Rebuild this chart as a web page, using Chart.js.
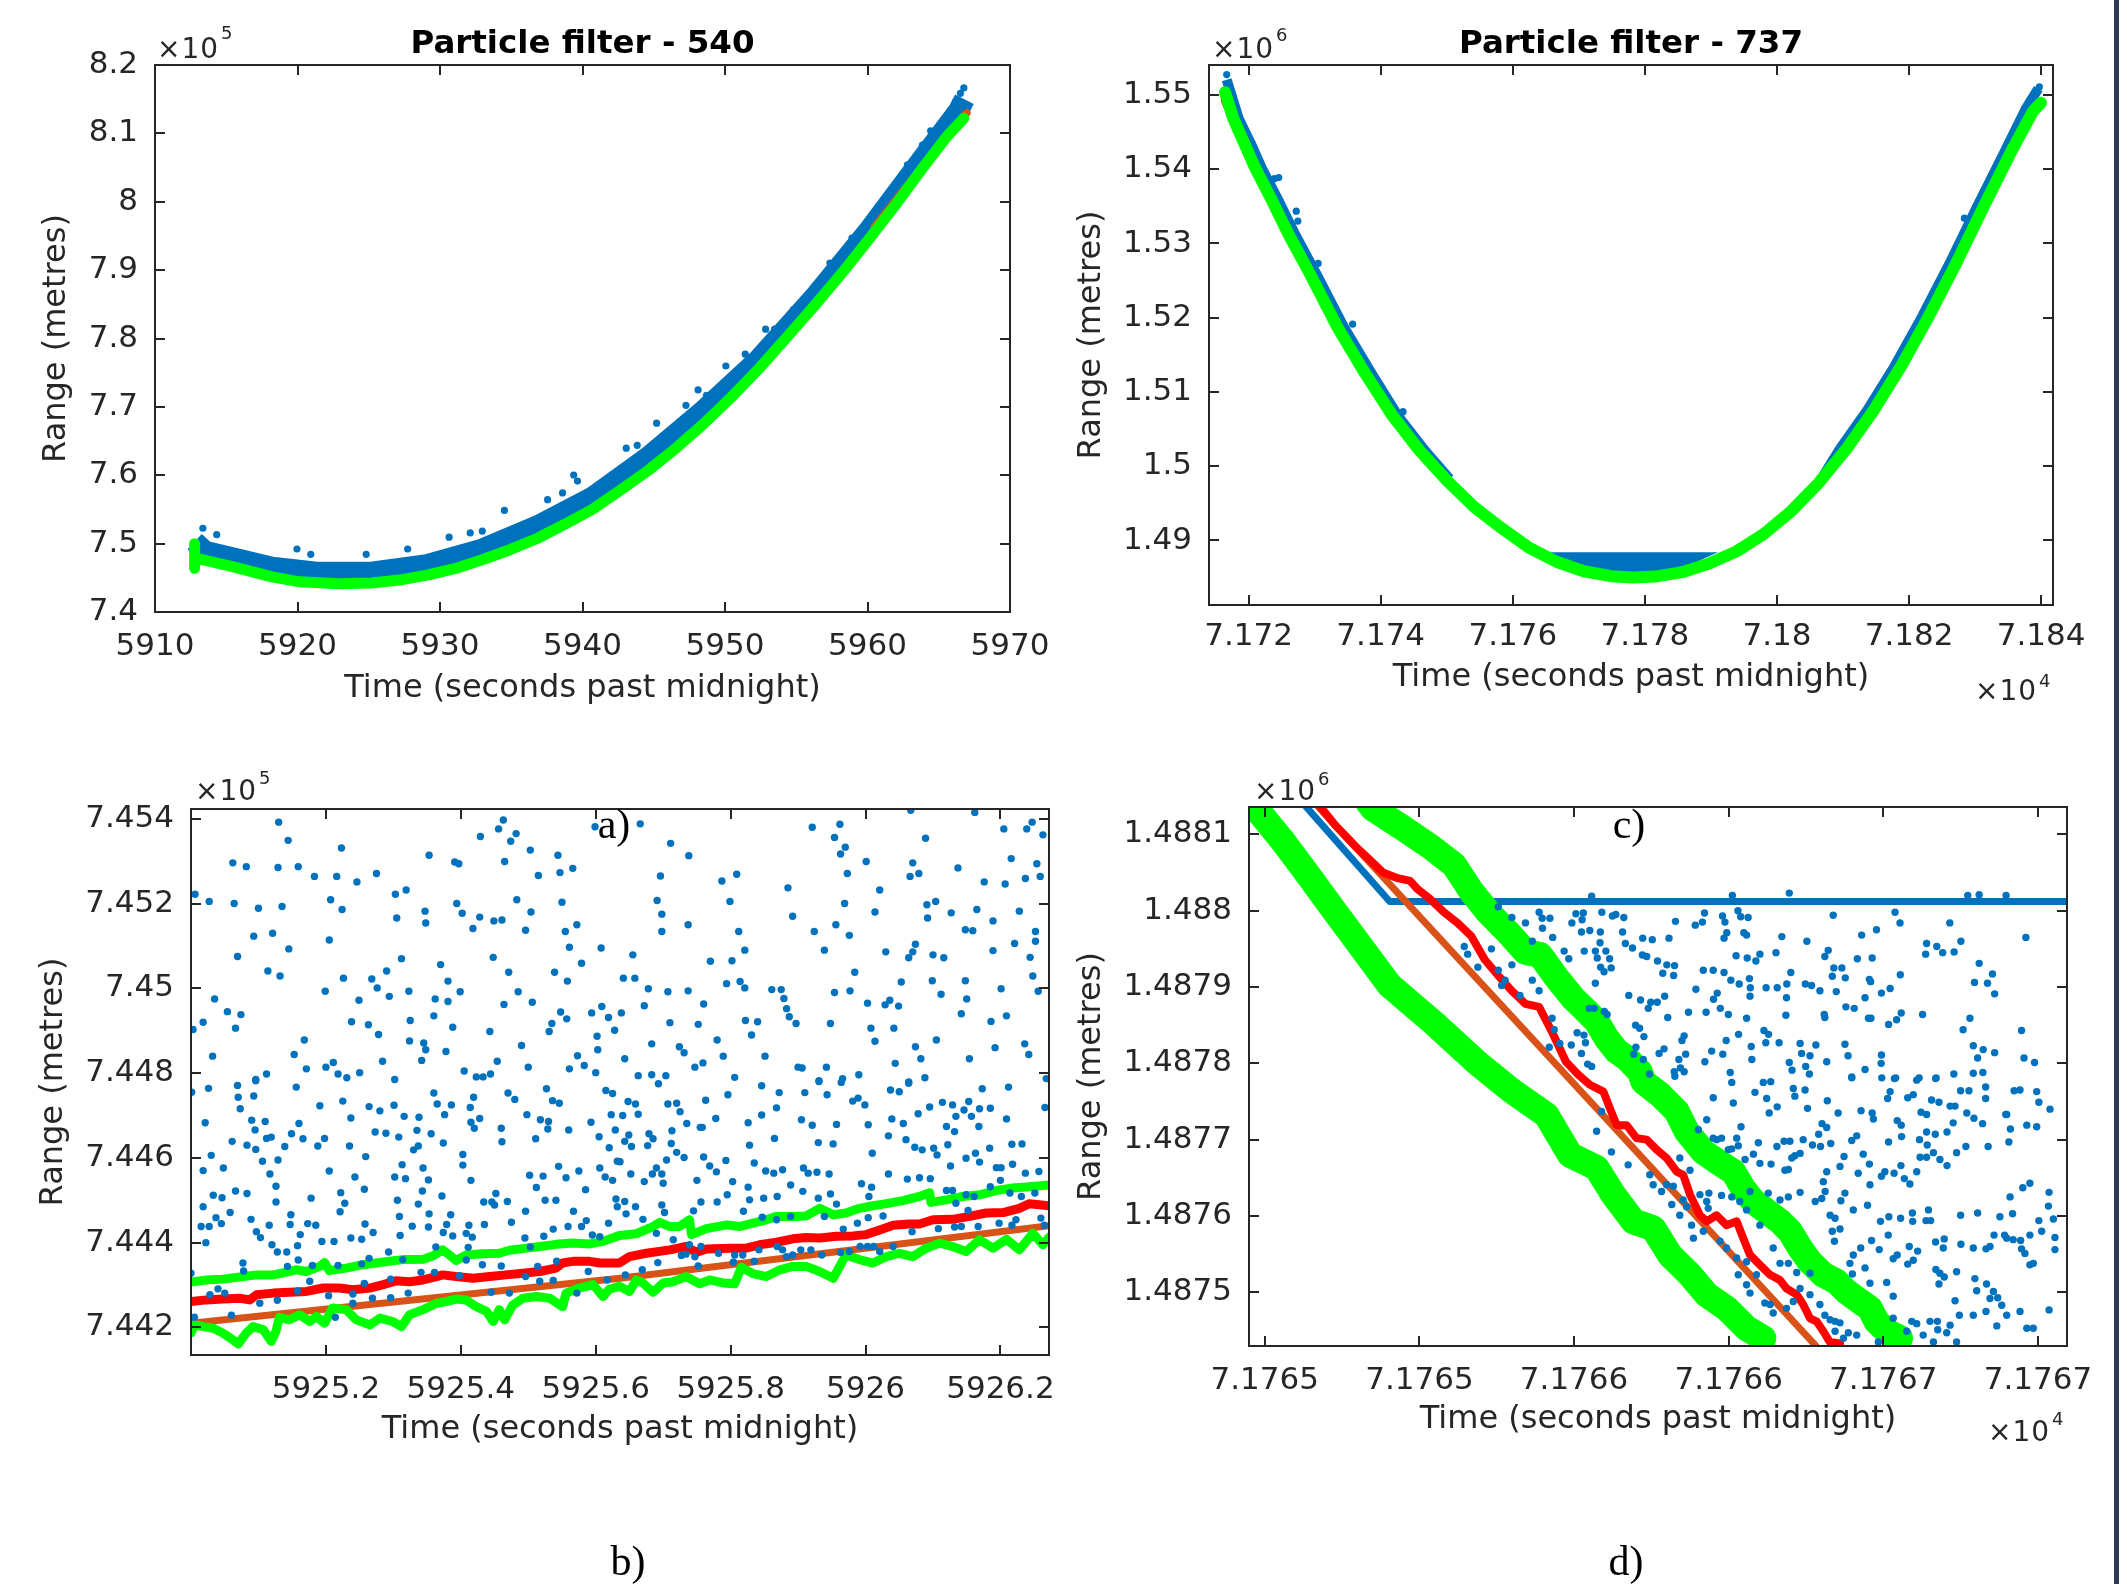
<!DOCTYPE html>
<html>
<head>
<meta charset="utf-8">
<script src="https://cdn.jsdelivr.net/npm/chart.js@4.4.1/dist/chart.umd.min.js"></script>
<style>
  body { margin: 0; background: #fff; }
  #fig { position: relative; width: 2127px; height: 1584px; background: #fff; overflow: hidden;
         font-family: 'DejaVu Sans', sans-serif; color: #262626; }
  #fig canvas { position: absolute; }
  .wrap { position: absolute; overflow: hidden; }
  .mul { position: absolute; font-size: 28px; line-height: 28px; letter-spacing: 1px; white-space: nowrap; }
  .exp { position: absolute; font-size: 18px; line-height: 18px; white-space: nowrap; }
  .tag { position: absolute; width: 100px; text-align: center; font-family: 'Liberation Serif', serif;
         font-size: 42px; line-height: 42px; color: #000; }
  #edge { position: absolute; left: 2114px; top: 0; width: 5px; height: 1584px; background: #2b3a55; }
</style>
</head>
<body>
<div id="fig">
  <canvas id="chA" width="1062" height="730" style="left:0;top:0;width:1062px;height:730px"></canvas>
  <div class="wrap" style="left:0;top:740px;width:1053px;height:844px">
    <canvas id="chB" width="1100" height="844" style="left:0;top:0;width:1100px;height:844px"></canvas>
  </div>
  <canvas id="chC" width="1054" height="730" style="left:1060px;top:0;width:1054px;height:730px"></canvas>
  <canvas id="chD" width="1054" height="844" style="left:1060px;top:740px;width:1054px;height:844px"></canvas>

  <span class="mul" style="left:157px;top:35px">×10</span><span class="exp" style="left:221px;top:24px">5</span>
  <span class="mul" style="left:1212px;top:35px">×10</span><span class="exp" style="left:1276px;top:26px">6</span>
  <span class="mul" style="left:1975px;top:677px">×10</span><span class="exp" style="left:2039px;top:672px">4</span>
  <span class="mul" style="left:195px;top:777px">×10</span><span class="exp" style="left:259px;top:769px">5</span>
  <span class="mul" style="left:1254px;top:777px">×10</span><span class="exp" style="left:1318px;top:770px">6</span>
  <span class="mul" style="left:1988px;top:1418px">×10</span><span class="exp" style="left:2052px;top:1410px">4</span>

  <div class="tag" style="left:564px;top:803px">a)</div>
  <div class="tag" style="left:578px;top:1540px">b)</div>
  <div class="tag" style="left:1579px;top:803px">c)</div>
  <div class="tag" style="left:1576px;top:1540px">d)</div>
  <div id="edge"></div>
</div>

<script>
// ---------- axis ticks ----------
const aXTicks = [5910, 5920, 5930, 5940, 5950, 5960, 5970];
const aXLabels = ['5910', '5920', '5930', '5940', '5950', '5960', '5970'];
const aYTicks = [740000, 750000, 760000, 770000, 780000, 790000, 800000, 810000, 820000];
const aYLabels = ['7.4', '7.5', '7.6', '7.7', '7.8', '7.9', '8', '8.1', '8.2'];

const bXTicks = [5925.2, 5925.4, 5925.6, 5925.8, 5926, 5926.2];
const bXLabels = ['5925.2', '5925.4', '5925.6', '5925.8', '5926', '5926.2'];
const bYTicks = [744200, 744400, 744600, 744800, 745000, 745200, 745400];
const bYLabels = ['7.442', '7.444', '7.446', '7.448', '7.45', '7.452', '7.454'];

const cXTicks = [71720, 71740, 71760, 71780, 71800, 71820, 71840];
const cXLabels = ['7.172', '7.174', '7.176', '7.178', '7.18', '7.182', '7.184'];
const cYTicks = [1490000, 1500000, 1510000, 1520000, 1530000, 1540000, 1550000];
const cYLabels = ['1.49', '1.5', '1.51', '1.52', '1.53', '1.54', '1.55'];

const dXTicks = [71764.5, 71765, 71765.5, 71766, 71766.5, 71767];
const dXLabels = ['7.1765', '7.1765', '7.1766', '7.1766', '7.1767', '7.1767'];
const dYTicks = [1487500, 1487600, 1487700, 1487800, 1487900, 1488000, 1488100];
const dYLabels = ['1.4875', '1.4876', '1.4877', '1.4878', '1.4879', '1.488', '1.4881'];

// ---------- panel a (PRN 540, full pass) ----------
const aGreen = [[5912.78,750000],[5912.78,746400],[5912.82,747900],[5915.50,746602],[5918.21,745139],[5920.16,744407],[5922.87,744146],[5925.20,744250],[5927.15,744668],[5929.09,745400],[5931.03,746341],[5932.97,747648],[5934.91,749111],[5936.85,750784],[5938.80,752875],[5940.74,755070],[5942.68,757841],[5944.62,760715],[5946.56,763956],[5948.50,767510],[5950.45,771431],[5952.39,775612],[5954.33,780160],[5956.27,784760],[5958.21,789568],[5960.16,794691],[5962.10,799918],[5964.04,805406],[5965.59,809588],[5966.76,812201]];
const aTruth = [[5960.5,796300],[5963.27,803577],[5966.96,812985]];
const aBlue = [[5912.78,750300],[5913.5,748900],[5915.50,747909],[5918.21,746550],[5921.32,745818],[5925.20,745818],[5929.09,746916],[5932.97,749216],[5936.85,752614],[5940.74,756847],[5944.62,762702],[5948.50,769497],[5952.39,777024],[5956.27,786066],[5960.16,795998],[5964.04,806817],[5966.37,813247],[5966.80,815000]];
const aSpread = [[5913.36,752248],[5914.33,751307],[5919.96,749216],[5920.93,748432],[5924.82,748432],[5927.73,749216],[5930.64,750941],[5932.12,751568],[5932.97,751829],[5934.52,754861],[5937.55,756429],[5938.60,757422],[5939.38,760036],[5939.65,759147],[5943.07,763956],[5943.84,764374],[5945.20,767615],[5947.26,770228],[5948.11,772476],[5948.70,771692],[5950.06,775978],[5951.42,777703],[5952.85,781362],[5953.48,781362],[5954.80,784237],[5956.27,787634],[5957.36,791032],[5958.91,794691],[5960.54,798611],[5961.52,801225],[5962.80,805406],[5963.85,808281],[5964.43,810372],[5966.18,814658],[5966.76,816644],[5966.52,815860]];

// ---------- panel b (PRN 540, zoom) ----------
const bGreenHi = [[5925.0,744307],[5925.023,744312],[5925.047,744314],[5925.072,744319],[5925.097,744324],[5925.122,744324],[5925.146,744332],[5925.156,744336],[5925.171,744332],[5925.191,744344],[5925.198,744353],[5925.205,744334],[5925.230,744340],[5925.255,744348],[5925.275,744352],[5925.294,744356],[5925.314,744360],[5925.344,744361],[5925.359,744369],[5925.373,744383],[5925.383,744371],[5925.393,744358],[5925.408,744371],[5925.433,744374],[5925.457,744375],[5925.472,744382],[5925.492,744386],[5925.517,744391],[5925.541,744396],[5925.566,744399],[5925.591,744397],[5925.611,744403],[5925.635,744417],[5925.660,744421],[5925.685,744438],[5925.695,744448],[5925.710,744438],[5925.724,744438],[5925.739,744454],[5925.742,744419],[5925.764,744433],[5925.794,744442],[5925.813,744438],[5925.833,744446],[5925.853,744454],[5925.868,744462],[5925.892,744462],[5925.912,744463],[5925.932,744481],[5925.952,744466],[5925.971,744470],[5925.991,744481],[5926.011,744487],[5926.031,744492],[5926.055,744499],[5926.080,744509],[5926.095,744518],[5926.097,744495],[5926.120,744501],[5926.144,744509],[5926.169,744513],[5926.194,744523],[5926.218,744529],[5926.243,744532],[5926.273,744536]];
const bRed = [[5925.0,744261],[5925.023,744265],[5925.047,744267],[5925.072,744269],[5925.087,744265],[5925.097,744277],[5925.122,744281],[5925.146,744283],[5925.171,744285],[5925.196,744293],[5925.220,744293],[5925.240,744289],[5925.265,744293],[5925.285,744301],[5925.304,744310],[5925.324,744308],[5925.344,744312],[5925.364,744320],[5925.373,744324],[5925.393,744320],[5925.418,744316],[5925.443,744320],[5925.467,744324],[5925.492,744328],[5925.517,744332],[5925.541,744340],[5925.551,744352],[5925.566,744356],[5925.591,744356],[5925.606,744352],[5925.635,744352],[5925.650,744367],[5925.675,744375],[5925.710,744383],[5925.734,744391],[5925.749,744377],[5925.764,744385],[5925.799,744387],[5925.823,744387],[5925.843,744395],[5925.868,744401],[5925.892,744409],[5925.912,744412],[5925.932,744411],[5925.957,744415],[5925.981,744416],[5926.001,744419],[5926.021,744430],[5926.041,744441],[5926.065,744444],[5926.080,744444],[5926.100,744454],[5926.129,744455],[5926.154,744462],[5926.179,744470],[5926.204,744471],[5926.228,744481],[5926.243,744492],[5926.273,744487]];
const bTruth = [[5925.0,744210],[5925.636,744316],[5926.273,744440]];
const bGreenLo = [[5925.0,744187],[5925.005,744206],[5925.018,744202],[5925.033,744198],[5925.047,744187],[5925.062,744171],[5925.070,744161],[5925.082,744187],[5925.092,744202],[5925.107,744195],[5925.119,744167],[5925.126,744191],[5925.131,744224],[5925.146,744218],[5925.161,744230],[5925.176,744214],[5925.186,744226],[5925.198,744210],[5925.210,744246],[5925.230,744242],[5925.245,744218],[5925.265,744206],[5925.280,744222],[5925.299,744214],[5925.312,744202],[5925.324,744230],[5925.344,744242],[5925.364,744257],[5925.378,744261],[5925.393,744267],[5925.408,744265],[5925.423,744249],[5925.438,744238],[5925.448,744214],[5925.457,744242],[5925.465,744218],[5925.477,744253],[5925.492,744269],[5925.512,744273],[5925.532,744269],[5925.551,744249],[5925.556,744281],[5925.576,744293],[5925.596,744301],[5925.611,744273],[5925.620,744290],[5925.635,744297],[5925.650,744285],[5925.660,744312],[5925.670,744305],[5925.685,744283],[5925.700,744305],[5925.715,744308],[5925.734,744320],[5925.754,744303],[5925.769,744312],[5925.789,744305],[5925.806,744303],[5925.816,744342],[5925.833,744327],[5925.853,744320],[5925.873,744336],[5925.892,744344],[5925.912,744344],[5925.932,744332],[5925.952,744316],[5925.971,744371],[5925.991,744360],[5926.011,744352],[5926.031,744367],[5926.050,744375],[5926.070,744367],[5926.090,744387],[5926.110,744399],[5926.129,744391],[5926.149,744379],[5926.169,744407],[5926.189,744387],[5926.209,744408],[5926.228,744383],[5926.248,744422],[5926.263,744395],[5926.273,744414]];
const bParticles = [
[5925.130,745392],[5925.463,745397],[5925.599,745381],[5925.456,745376],[5925.429,745358],[5925.144,745349],[5925.474,745347],[5925.482,745365],[5925.223,745331],[5925.503,745326],[5925.062,745296],[5925.082,745287],[5925.129,745285],[5925.159,745287],[5925.353,745314],[5925.391,745298],[5925.397,745294],[5925.465,745299],[5925.544,745314],[5925.566,745283],[5925.547,745273],[5925.515,745266],[5925.183,745264],[5925.216,745264],[5925.246,745251],[5925.275,745271],[5925.006,745222],[5925.027,745205],[5925.064,745200],[5925.100,745189],[5925.135,745193],[5925.207,745209],[5925.224,745186],[5925.303,745222],[5925.319,745232],[5925.305,745166],[5925.347,745182],[5925.348,745154],[5925.394,745200],[5925.402,745177],[5925.418,745141],[5925.428,745168],[5925.449,745159],[5925.461,745161],[5925.483,745209],[5925.504,745180],[5925.496,745137],[5925.550,745203],[5925.555,745134],[5925.572,745150],[5925.093,745123],[5925.121,745130],[5925.145,745093],[5925.069,745075],[5925.114,745041],[5925.132,745029],[5925.205,745114],[5925.226,745024],[5925.268,745022],[5925.276,745001],[5925.290,745041],[5925.312,745070],[5925.370,745056],[5925.381,745017],[5925.448,745073],[5925.471,745038],[5925.561,745097],[5925.579,745059],[5925.539,745038],[5925.558,745017],[5925.608,745095],[5925.035,744975],[5925.054,744945],[5925.074,744938],[5925.066,744906],[5925.018,744920],[5925.003,744903],[5925.032,744840],[5925.199,744993],[5925.249,744972],[5925.294,744981],[5925.323,744993],[5925.362,744975],[5925.381,744969],[5925.399,744992],[5925.360,744935],[5925.325,744924],[5925.238,744921],[5925.263,744914],[5925.278,744891],[5925.324,744876],[5925.345,744871],[5925.348,744855],[5925.388,744908],[5925.378,744851],[5925.342,744830],[5925.284,744828],[5925.464,744962],[5925.485,744992],[5925.506,744967],[5925.443,744898],[5925.548,744944],[5925.557,744928],[5925.535,744917],[5925.531,744898],[5925.594,744942],[5925.609,744957],[5925.619,744931],[5925.628,744901],[5925.602,744887],[5925.603,744855],[5925.573,744841],[5925.583,744818],[5925.561,744810],[5925.600,744801],[5925.490,744865],[5925.500,744814],[5925.454,744828],[5925.444,744798],[5925.423,744791],[5925.433,744791],[5925.405,744805],[5925.302,744785],[5925.250,744801],[5925.231,744789],[5925.218,744798],[5925.211,744825],[5925.200,744814],[5925.171,744810],[5925.168,744878],[5925.153,744844],[5925.112,744798],[5925.096,744785],
[5925.666,745388],[5925.711,745342],[5925.738,745313],[5925.696,745265],[5925.691,745207],[5925.698,745175],[5925.698,745134],[5925.737,745150],[5925.787,745253],[5925.809,745269],[5925.799,745205],[5925.812,745134],[5925.821,745090],[5925.802,745065],[5925.655,745079],[5925.641,745024],[5925.658,745024],[5925.678,744999],[5925.707,744992],[5925.737,744994],[5925.770,745064],[5925.794,745011],[5925.814,745016],[5925.821,745001],[5925.861,744997],[5925.875,744997],[5925.879,744976],[5925.883,744952],[5925.887,744933],[5925.897,744917],[5925.760,744963],[5925.672,744959],[5925.638,744942],[5925.710,744919],[5925.752,744915],[5925.822,744924],[5925.840,744921],[5925.831,744890],[5925.780,744878],[5925.683,744869],[5925.724,744862],[5925.731,744848],[5925.789,744840],[5925.643,744834],[5925.759,744824],[5925.747,744814],[5925.851,744840],[5925.663,744794],[5925.683,744796],[5925.704,744794],[5925.806,744790],[5925.900,744814],[5925.906,744812],[5925.931,744782],[5925.942,744814],[5925.966,744787],[5925.990,744796],[5925.921,745380],[5925.954,745356],[5925.962,745387],[5925.970,745333],[5925.963,745317],[5925.973,745271],[5926.001,745299],[5925.885,745237],[5925.892,745170],[5925.924,745134],[5925.939,745090],[5925.956,745150],[5925.969,745200],[5925.976,745125],[5925.984,745038],[5925.977,744994],[5925.954,744990],[5925.948,744917],[5926.003,744965],[5926.008,744906],[5926.014,744875],[5926.030,745086],[5926.014,745180],[5926.021,745232],[5926.067,745420],[5926.089,745354],[5926.070,745296],[5926.066,745264],[5926.079,745271],[5926.091,745197],[5926.104,745205],[5926.092,745166],[5926.127,745178],[5926.137,745284],[5926.162,745415],[5926.205,745376],[5926.216,745306],[5926.239,745376],[5926.247,745392],[5926.263,745362],[5926.254,745294],[5926.259,745264],[5926.237,745259],[5926.207,745246],[5926.176,745251],[5926.165,745186],[5926.189,745159],[5926.228,745182],[5926.148,745138],[5926.159,745136],[5926.252,745134],[5926.252,745111],[5926.221,745106],[5926.189,745089],[5926.244,745073],[5926.248,745029],[5926.256,744993],[5926.201,744999],[5926.209,744935],[5926.186,744922],[5926.148,745018],[5926.150,744975],[5926.142,744940],[5926.112,744986],[5926.116,745072],[5926.100,745079],[5926.099,745018],[5926.074,745104],[5926.070,745086],[5926.064,745072],[5926.053,745015],[5926.036,744972],[5926.029,744961],[5926.049,744958],[5926.042,744906],[5926.074,744862],[5926.082,744834],[5926.105,744878],[5926.154,744834],[5926.192,744860],[5926.236,744869],[5926.242,744844],[5926.088,744789],[5926.064,744779],[5926.044,744823],[5926.268,744787],
[5925.069,744771],[5925.096,744782],[5925.026,744764],[5925.156,744767],[5925.070,744743],[5925.093,744746],[5925.073,744716],[5925.001,744755],[5925.191,744723],[5925.225,744734],[5925.301,744724],[5925.264,744721],[5925.280,744711],[5925.316,744698],[5925.338,744696],[5925.360,744753],[5925.365,744727],[5925.386,744725],[5925.376,744702],[5925.419,744743],[5925.414,744719],[5925.428,744693],[5925.415,744684],[5925.420,744670],[5925.470,744753],[5925.480,744738],[5925.527,744763],[5925.536,744735],[5925.546,744729],[5925.498,744702],[5925.518,744690],[5925.530,744686],[5925.529,744668],[5925.560,744666],[5925.593,744684],[5925.615,744759],[5925.625,744752],[5925.623,744702],[5925.629,744666],[5925.605,744650],[5925.620,744624],[5925.632,744592],[5925.021,744683],[5925.061,744639],[5925.090,744689],[5925.110,744686],[5925.095,744666],[5925.112,744646],[5925.119,744649],[5925.083,744630],[5925.096,744620],[5925.139,744627],[5925.149,744657],[5925.166,744645],[5925.160,744681],[5925.198,744646],[5925.188,744628],[5925.237,744694],[5925.235,744628],[5925.273,744661],[5925.289,744658],[5925.308,744649],[5925.335,744665],[5925.356,744657],[5925.337,744628],[5925.330,744619],[5925.374,744635],[5925.460,744670],[5925.461,744638],[5925.511,744645],[5925.030,744606],[5925.018,744570],[5925.048,744576],[5925.106,744592],[5925.129,744595],[5925.117,744562],[5925.126,744533],[5925.126,744496],[5925.066,744522],[5925.083,744516],[5925.033,744512],[5925.046,744506],[5925.018,744485],[5925.058,744471],[5925.037,744459],[5925.045,744445],[5925.015,744438],[5925.027,744438],[5925.022,744400],[5925.089,744455],[5925.097,744426],[5925.103,744412],[5925.116,744441],[5925.120,744395],[5925.148,744466],[5925.147,744443],[5925.162,744419],[5925.158,744393],[5925.173,744445],[5925.178,744505],[5925.185,744441],[5925.205,744569],[5925.243,744555],[5925.259,744603],[5925.257,744526],[5925.222,744518],[5925.228,744493],[5925.221,744473],[5925.194,744403],[5925.212,744403],[5925.237,744411],[5925.253,744408],[5925.258,744444],[5925.270,744424],[5925.302,744555],[5925.318,744551],[5925.313,744584],[5925.344,744576],[5925.352,744548],[5925.343,744522],[5925.337,744491],[5925.306,744500],[5925.309,744462],[5925.310,744417],[5925.328,744439],[5925.353,744468],[5925.352,744437],[5925.372,744510],[5925.385,744466],[5925.379,744443],[5925.374,744424],[5925.388,744416],[5925.403,744608],[5925.403,744583],[5925.415,744547],[5925.412,744441],[5925.408,744422],[5925.417,744413],[5925.435,744443],[5925.434,744496],[5925.446,744496],[5925.452,744516],[5925.450,744489],[5925.469,744497],[5925.475,744448],[5925.502,744559],[5925.512,744530],[5925.522,744557],[5925.525,744500],[5925.541,744500],[5925.545,744580],[5925.556,744553],[5925.575,744569],[5925.585,744525],[5925.606,744576],[5925.614,744555],[5925.625,744547],[5925.630,744503],[5925.632,744485],[5925.496,744474],[5925.523,744415],[5925.537,744432],[5925.559,744438],[5925.567,744474],[5925.579,744438],[5925.586,744452],[5925.619,744446],[5925.495,744411],[5925.595,744418],[5925.606,744414],[5925.077,744352],[5925.078,744333],[5925.159,744359],[5925.142,744378],[5925.128,744378],[5925.143,744344],[5925.180,744346],[5925.218,744346],[5925.253,744350],[5925.264,744363],[5925.293,744378],[5925.314,744360],[5925.363,744390],[5925.411,744389],[5925.408,744359],[5925.432,744348],[5925.460,744345],[5925.503,744390],[5925.514,744344],[5925.542,744356],[5925.589,744332],[5925.496,744320],[5925.517,744309],[5925.000,744328],[5925.040,744291],[5925.050,744281],[5925.028,744277],[5925.102,744257],[5925.128,744264],[5925.176,744309],[5925.158,744286],[5925.204,744275],[5925.240,744279],[5925.257,744304],[5925.269,744269],[5925.296,744314],[5925.296,744270],[5925.322,744281],[5925.341,744330],[5925.361,744330],[5925.398,744322],[5925.445,744283],[5925.472,744281],[5925.537,744311],[5925.572,744281],[5925.617,744312],[5925.060,744229],[5925.005,744224],[5925.214,744224],[5925.240,744257],
[5925.693,744775],[5925.796,744749],[5925.846,744770],[5925.872,744754],[5925.910,744754],[5925.931,744780],[5925.943,744749],[5925.964,744778],[5925.981,744734],[5925.989,744741],[5925.999,744725],[5926.037,744760],[5926.050,744756],[5926.064,744776],[5926.173,744763],[5926.212,744767],[5925.648,744733],[5925.659,744727],[5925.707,744727],[5925.720,744729],[5925.725,744709],[5925.763,744736],[5925.640,744700],[5925.663,744703],[5925.735,744681],[5925.755,744672],[5925.778,744693],[5925.826,744683],[5925.846,744701],[5925.868,744718],[5925.865,744646],[5925.905,744690],[5925.921,744677],[5925.957,744679],[5926.004,744678],[5926.039,744692],[5926.056,744681],[5926.078,744704],[5926.095,744720],[5926.114,744731],[5926.129,744725],[5926.134,744698],[5926.146,744713],[5926.157,744698],[5926.153,744733],[5926.169,744716],[5926.185,744717],[5926.168,744674],[5926.209,744692],[5926.132,744662],[5926.120,744674],[5925.649,744654],[5925.643,744639],[5925.653,744627],[5925.679,744657],[5925.685,744645],[5925.677,744629],[5925.713,744664],[5925.712,744634],[5925.720,744613],[5925.731,744601],[5925.705,744595],[5925.690,744576],[5925.698,744562],[5925.684,744562],[5925.652,744562],[5925.672,744544],[5925.700,744540],[5925.636,744591],[5925.750,744547],[5925.758,744672],[5925.760,744602],[5925.769,744581],[5925.779,744567],[5925.793,744594],[5925.803,744544],[5925.828,744630],[5925.835,744588],[5925.852,744569],[5925.864,744564],[5925.877,744572],[5925.889,744536],[5925.908,744576],[5925.915,744564],[5925.928,744566],[5925.946,744562],[5925.930,744636],[5925.952,744633],[5926.010,744611],[5925.994,744539],[5926.005,744509],[5926.009,744531],[5926.034,744652],[5926.034,744562],[5926.060,744643],[5926.062,744550],[5926.073,744625],[5926.084,744619],[5926.080,744553],[5926.096,744551],[5926.101,744623],[5926.106,744607],[5926.126,744581],[5926.122,744631],[5926.149,744599],[5926.163,744611],[5926.169,744590],[5926.184,744623],[5926.194,744577],[5926.201,744577],[5926.218,744585],[5926.217,744632],[5926.232,744633],[5926.237,744564],[5926.257,744568],[5926.200,744547],[5926.120,744523],[5926.129,744523],[5926.149,744513],[5926.152,744476],[5926.134,744493],[5926.161,744509],[5926.185,744532],[5926.214,744517],[5926.231,744509],[5926.251,744517],[5926.266,744719],[5926.260,744458],[5925.643,744497],[5925.659,744485],[5925.645,744468],[5925.670,744455],[5925.698,744489],[5925.702,744471],[5925.745,744475],[5925.756,744496],[5925.780,744496],[5925.795,744513],[5925.826,744531],[5925.819,744474],[5925.828,744501],[5925.849,744505],[5925.869,744509],[5925.847,744460],[5925.868,744454],[5925.889,744462],[5925.907,744521],[5925.930,744505],[5925.948,744515],[5925.957,744491],[5925.939,744462],[5925.967,744432],[5925.988,744446],[5926.004,744459],[5926.026,744463],[5926.069,744426],[5926.108,744433],[5926.132,744437],[5926.142,744438],[5926.167,744438],[5926.198,744446],[5926.217,744441],[5926.223,744454],[5926.265,744441],[5925.690,744422],[5925.727,744370],[5925.734,744373],[5925.739,744395],[5925.756,744391],[5925.747,744367],[5925.752,744345],[5925.644,744324],[5925.669,744336],[5925.692,744353],[5925.715,744407],[5925.782,744375],[5925.804,744354],[5925.806,744371],[5925.818,744371],[5925.835,744356],[5925.842,744383],[5925.869,744391],[5925.877,744383],[5925.883,744367],[5925.892,744371],[5925.904,744383],[5925.919,744383],[5925.935,744371],[5925.963,744377],[5925.976,744379],[5925.992,744391],[5926.003,744391],[5926.012,744391],[5926.021,744379],[5926.041,744391]
];

// ---------- panel c (PRN 737, full pass) ----------
const cGreen = [[71716.43,1550380],[71717.68,1546814],[71719.34,1543486],[71721.00,1540157],[71723.48,1535878],[71725.97,1531360],[71729.29,1525892],[71733.43,1518760],[71737.58,1512578],[71741.73,1506872],[71745.87,1502117],[71750.02,1498075],[71754.16,1494509],[71758.31,1491656],[71762.45,1489040],[71766.60,1487138],[71770.75,1485855],[71774.89,1485189],[71778.21,1485000],[71781.53,1485142],[71785.67,1485733],[71789.82,1486921],[71793.96,1488565],[71798.11,1490943],[71802.26,1494034],[71806.40,1497837],[71810.55,1502355],[71814.69,1507585],[71818.84,1513529],[71822.99,1520186],[71827.13,1527318],[71831.28,1534927],[71835.42,1542297],[71838.74,1547765],[71839.98,1548954]];
const cRed = [[71716.02,1549192],[71718.51,1543961]];
const cBlueLeft = [[71716.68,1552045],[71718.51,1546814],[71720.33,1543486],[71721.99,1540157],[71724.48,1535878],[71726.97,1531360],[71730.28,1525892],[71734.43,1518760],[71738.57,1512578],[71742.55,1506872],[71746.70,1502117],[71750.43,1498313]];
const cBlueRight = [[71806.40,1497837],[71809.55,1502355],[71813.70,1507585],[71817.84,1513529],[71821.99,1520186],[71826.14,1527318],[71830.28,1534927],[71834.43,1542297],[71837.74,1548241],[71839.57,1550856]];
const cBlueFloor = [[71765.36,1488422],[71791.06,1488422],[71787.33,1486900],[71783.18,1485950],[71778.21,1485570],[71773.23,1485950],[71769.09,1486900],[71765.36,1488422]];
const cSpread = [[71723.90,1538731],[71724.56,1538873],[71727.21,1534356],[71727.46,1533024],[71730.53,1527318],[71735.75,1519140],[71743.38,1507348],[71828.38,1533405],[71835.01,1543248],[71716.68,1552758],[71839.73,1551094]];

// ---------- panel d (PRN 737, zoom) ----------
const dGreenHi = [[71764.82,1488150],[71764.849,1488134],[71764.948,1488108],[71765.035,1488084],[71765.112,1488060],[71765.167,1488026],[71765.222,1487998],[71765.288,1487971],[71765.343,1487946],[71765.390,1487942],[71765.444,1487912],[71765.498,1487885],[71765.541,1487868],[71765.573,1487855],[71765.605,1487833],[71765.638,1487816],[71765.670,1487807],[71765.713,1487789],[71765.724,1487776],[71765.778,1487759],[71765.832,1487737],[71765.864,1487711],[71765.918,1487684],[71765.972,1487669],[71766.015,1487658],[71766.047,1487636],[71766.080,1487619],[71766.123,1487606],[71766.166,1487593],[71766.198,1487580],[71766.231,1487558],[71766.263,1487540],[71766.306,1487523],[71766.349,1487514],[71766.381,1487501],[71766.425,1487488],[71766.457,1487479],[71766.478,1487462],[71766.511,1487449],[71766.554,1487440]];
const dGreenLo = [[71764.46,1488150],[71764.476,1488132],[71764.553,1488094],[71764.629,1488053],[71764.728,1487998],[71764.816,1487950],[71764.904,1487902],[71765.046,1487853],[71765.189,1487800],[71765.299,1487764],[71765.411,1487732],[71765.487,1487680],[71765.573,1487663],[71765.627,1487628],[71765.692,1487593],[71765.756,1487584],[71765.810,1487549],[71765.875,1487523],[71765.929,1487497],[71765.993,1487479],[71766.058,1487453],[71766.112,1487440]];
const dRed = [[71764.680,1488136],[71764.728,1488112],[71764.794,1488084],[71764.838,1488067],[71764.882,1488050],[71764.926,1488043],[71764.970,1488039],[71764.992,1488029],[71765.035,1488015],[71765.079,1487998],[71765.123,1487984],[71765.167,1487967],[71765.211,1487936],[71765.255,1487915],[71765.299,1487895],[71765.343,1487878],[71765.387,1487874],[71765.430,1487840],[71765.474,1487802],[71765.514,1487785],[71765.551,1487772],[71765.595,1487763],[71765.616,1487741],[71765.638,1487719],[71765.670,1487719],[71765.702,1487702],[71765.735,1487700],[71765.767,1487687],[71765.799,1487676],[71765.832,1487658],[71765.853,1487654],[71765.875,1487628],[71765.907,1487601],[71765.929,1487593],[71765.961,1487601],[71765.993,1487588],[71766.026,1487593],[71766.047,1487571],[71766.069,1487549],[71766.101,1487536],[71766.134,1487523],[71766.166,1487516],[71766.187,1487505],[71766.220,1487497],[71766.241,1487484],[71766.263,1487466],[71766.284,1487462],[71766.306,1487449],[71766.327,1487435],[71766.360,1487433]];
const dTruth = [[71764.673,1488136],[71766.282,1487430]];
const dBlueTrack = [[71764.634,1488136],[71764.904,1488012],[71767.094,1488012]];
const dParticles = [
[71766.196,1488023],[71766.810,1488021],[71766.897,1488020],[71766.012,1488020],[71765.557,1488019],[71766.773,1488020],
[71765.397,1487990],[71765.422,1487990],[71765.506,1487996],[71765.530,1487997],[71765.590,1487998],[71765.624,1487993],[71765.635,1487995],[71765.661,1487991],[71765.493,1487984],[71765.526,1487988],[71765.524,1487972],[71765.551,1487974],[71765.585,1487972],[71765.431,1487965],[71765.584,1487958],[71765.657,1487972],[71765.666,1487957],[71765.689,1487951],[71765.722,1487964],[71765.753,1487962],[71765.807,1487964],[71765.828,1487986],[71765.892,1487981],[71765.915,1487985],[71765.922,1487997],[71765.980,1487993],[71765.988,1487985],[71766.030,1488000],[71766.039,1487992],[71766.063,1487991],[71765.994,1487971],[71765.985,1487964],[71766.049,1487971],[71766.058,1487968],[71766.172,1487966],[71766.253,1487960],[71766.338,1487994],[71766.430,1487968],[71766.478,1487975],[71766.538,1487998],[71766.554,1487984],[71766.715,1487984],[71766.640,1487957],[71766.673,1487953],[71766.751,1487960],[71766.692,1487945],[71766.729,1487946],[71766.637,1487943],[71766.961,1487965],[71765.468,1487947],[71765.483,1487937],[71765.533,1487947],[71765.569,1487947],[71765.575,1487938],[71765.603,1487947],[71765.586,1487926],[71765.615,1487937],[71765.620,1487925],[71765.597,1487920],[71765.721,1487942],[71765.735,1487940],[71765.770,1487934],[71765.800,1487929],[71765.825,1487928],[71765.787,1487918],[71765.822,1487915],[71765.569,1487905],[71765.677,1487889],[71765.715,1487883],[71765.748,1487880],[71765.740,1487872],[71765.769,1487880],[71765.793,1487888],[71765.803,1487860],[71765.870,1487867],[71765.927,1487867],[71765.951,1487884],[71765.963,1487892],[71765.973,1487872],[71765.894,1487897],[71765.918,1487922],[71765.950,1487922],[71765.985,1487919],[71766.007,1487909],[71766.034,1487904],[71766.067,1487911],[71766.070,1487899],[71766.069,1487888],[71766.024,1487941],[71766.060,1487938],[71766.088,1487934],[71766.101,1487943],[71766.153,1487945],[71766.121,1487899],[71766.157,1487899],[71766.188,1487904],[71766.201,1487919],[71766.187,1487886],[71766.185,1487863],[71766.058,1487859],[71765.999,1487864],[71766.248,1487904],[71766.268,1487902],[71766.295,1487895],[71766.311,1487940],[71766.322,1487948],[71766.340,1487925],[71766.366,1487925],[71766.377,1487912],[71766.335,1487914],[71766.348,1487894],[71766.416,1487937],[71766.464,1487938],[71766.455,1487910],[71766.459,1487907],[71766.494,1487892],[71766.522,1487898],[71766.555,1487916],[71766.379,1487874],[71766.406,1487872],[71766.441,1487886],[71766.452,1487859],[71766.460,1487859],[71766.309,1487864],[71766.311,1487860],[71766.376,1487825],[71766.386,1487810],[71766.517,1487851],[71766.543,1487857],[71766.558,1487866],[71766.627,1487864],[71766.758,1487844],[71766.780,1487859],[71766.795,1487906],[71766.837,1487905],[71766.853,1487917],[71766.810,1487931],[71766.860,1487891],[71766.947,1487843],[71766.791,1487823],[71766.823,1487818],[71766.860,1487814],[71766.805,1487807],[71766.955,1487807],[71766.989,1487801],[71766.728,1487786],[71766.791,1487787],[71766.822,1487788],[71766.616,1487781],[71766.671,1487781],[71766.540,1487781],[71766.493,1487800],[71766.494,1487811],[71766.441,1487792],[71766.398,1487782],[71766.317,1487802],[71766.249,1487796],[71766.261,1487786],[71766.196,1487801],[71766.205,1487791],[71766.231,1487826],[71766.236,1487813],[71766.263,1487810],[71766.282,1487824],[71766.114,1487843],[71766.129,1487838],[71766.163,1487827],[71766.120,1487827],[71766.073,1487822],[71766.075,1487805],[71766.032,1487838],[71765.992,1487830],[71766.005,1487788],[71765.945,1487816],[71765.981,1487812],[71765.923,1487802],[71765.856,1487836],[71765.849,1487830],[71765.861,1487812],[71765.839,1487805],[71765.844,1487794],[71765.824,1487789],[71765.856,1487789],[71765.791,1487819],[71765.775,1487813],[71765.726,1487835],[71765.712,1487846],[71765.699,1487850],[71765.700,1487821],[71765.693,1487812],[71765.724,1487805],[71765.744,1487786],[71765.549,1487872],[71765.565,1487872],[71765.598,1487868],[71765.607,1487864],[71765.532,1487837],[71765.537,1487827],[71765.510,1487840],[71765.524,1487813],[71765.544,1487799],[71765.557,1487796],[71765.491,1487824],[71765.454,1487826],[71765.429,1487859],[71765.436,1487844],[71765.420,1487821],
[71765.826,1487783],[71765.950,1487755],[71766.010,1487775],[71766.015,1487748],[71766.085,1487762],[71766.112,1487775],[71766.136,1487776],[71766.123,1487754],[71766.157,1487743],[71766.131,1487735],[71766.209,1487767],[71766.247,1487765],[71766.214,1487757],[71766.255,1487741],[71766.319,1487751],[71766.398,1487781],[71766.354,1487735],[71766.428,1487738],[71766.464,1487735],[71766.468,1487727],[71766.495,1487781],[71766.536,1487780],[71766.522,1487763],[71766.514,1487754],[71766.579,1487755],[71766.597,1487759],[71766.608,1487778],[71766.669,1487780],[71766.656,1487752],[71766.680,1487749],[71766.716,1487744],[71766.732,1487744],[71766.750,1487764],[71766.777,1487764],[71766.770,1487735],[71766.793,1487728],[71766.831,1487769],[71766.831,1487754],[71766.821,1487721],[71766.899,1487733],[71766.923,1487764],[71766.942,1487765],[71766.996,1487763],[71767.003,1487749],[71767.039,1487740],[71766.964,1487719],[71766.996,1487717],[71766.911,1487714],[71766.906,1487697],[71766.839,1487691],[71766.767,1487691],[71766.737,1487683],[71766.726,1487722],[71766.706,1487710],[71766.668,1487707],[71766.640,1487710],[71766.617,1487700],[71766.642,1487693],[71766.619,1487677],[71766.640,1487677],[71766.662,1487683],[71766.683,1487674],[71766.706,1487666],[71766.558,1487719],[71766.559,1487704],[71766.545,1487725],[71766.517,1487697],[71766.640,1487733],[71766.622,1487736],[71766.608,1487658],[71766.557,1487666],[71766.535,1487656],[71766.568,1487649],[71766.586,1487642],[71766.494,1487652],[71766.505,1487658],[71766.455,1487668],[71766.435,1487681],[71766.457,1487641],[71766.419,1487656],[71766.398,1487699],[71766.414,1487705],[71766.373,1487678],[71766.360,1487665],[71766.376,1487630],[71766.363,1487620],[71766.317,1487658],[71766.306,1487645],[71766.312,1487632],[71766.330,1487695],[71766.297,1487691],[71766.271,1487693],[71766.317,1487716],[71766.302,1487721],[71766.291,1487707],[71766.241,1487700],[71766.231,1487682],[71766.214,1487679],[71766.204,1487676],[71766.193,1487661],[71766.182,1487660],[71766.198,1487698],[71766.179,1487698],[71766.156,1487691],[71766.137,1487668],[71766.096,1487696],[71766.101,1487669],[71766.080,1487681],[71766.053,1487674],[71766.040,1487717],[71766.031,1487692],[71766.026,1487702],[71765.950,1487702],[71765.961,1487700],[71765.977,1487702],[71766.010,1487688],[71765.999,1487687],[71765.929,1487726],[71765.902,1487713],[71765.875,1487660],[71765.842,1487676],[71765.821,1487639],[71765.799,1487641],[71765.853,1487621],[71765.864,1487612],[71765.907,1487628],[71765.936,1487630],[71765.977,1487627],[71765.929,1487619],[71765.934,1487610],[71766.010,1487625],[71766.036,1487619],[71766.058,1487608],[71766.101,1487588],[71766.069,1487632],[71766.128,1487630],[71766.166,1487621],[71766.193,1487625],[71766.231,1487631],[71766.280,1487619],[71766.301,1487623],[71766.328,1487601],[71766.344,1487597],[71766.335,1487580],[71766.360,1487583],[71766.342,1487567],[71766.403,1487608],[71766.449,1487614],[71766.491,1487593],[71766.518,1487599],[71766.556,1487597],[71766.595,1487593],[71766.646,1487608],[71766.638,1487594],[71766.653,1487594],[71766.594,1487604],[71766.750,1487601],[71766.805,1487604],[71766.877,1487599],[71766.910,1487625],[71766.918,1487603],[71766.951,1487637],[71766.974,1487643],[71767.036,1487631],[71767.034,1487613],[71767.003,1487594],[71767.050,1487596],[71767.055,1487572],[71767.012,1487580],[71766.974,1487575],[71766.944,1487568],[71766.899,1487571],[71766.892,1487575],[71766.858,1487575],[71766.845,1487560],[71766.832,1487557],[71766.791,1487558],[71766.751,1487563],[71766.697,1487570],[71766.669,1487566],[71766.694,1487558],[71766.611,1487554],[71766.584,1487560],[71766.597,1487542],[71766.545,1487549],[71766.532,1487544],[71766.516,1487575],[71766.487,1487556],[71766.462,1487568],[71766.427,1487558],[71766.403,1487549],[71766.392,1487538],[71766.400,1487524],[71766.441,1487532],[71766.457,1487512],[71766.511,1487513],[71766.532,1487495],[71766.579,1487537],[71766.670,1487530],[71766.683,1487525],[71766.697,1487520],[71766.680,1487511],[71766.737,1487527],[71766.796,1487518],[71766.802,1487502],[71766.834,1487511],[71766.856,1487501],[71766.845,1487492],[71766.870,1487493],[71766.883,1487483],[71766.832,1487475],[71766.791,1487470],[71766.746,1487470],[71766.732,1487489],[71766.592,1487462],[71766.608,1487459],[71766.651,1487462],[71766.675,1487462],[71766.676,1487451],[71766.705,1487447],[71766.716,1487457],[71766.737,1487435],[71766.662,1487435],[71766.629,1487444],[71766.576,1487449],[71766.532,1487466],[71766.484,1487435],[71766.867,1487456],[71766.899,1487470],[71766.942,1487475],[71766.964,1487453],[71766.985,1487453],[71767.036,1487477],[71767.055,1487556],[71766.896,1487733],[71766.974,1487536],[71766.985,1487538],[71766.958,1487551],[71766.947,1487557],[71766.920,1487569],[71766.144,1487558],[71766.166,1487538],[71766.193,1487538],[71766.220,1487526],[71766.263,1487525],[71766.231,1487505],[71766.263,1487497],[71766.295,1487484],[71766.209,1487488],[71766.134,1487484],[71766.144,1487473],[71766.187,1487479],[71766.117,1487486],[71766.069,1487499],[71766.058,1487510],[71766.031,1487523],[71766.311,1487470],[71766.328,1487464],[71766.360,1487460],[71766.344,1487449],[71766.387,1487447],[71766.371,1487440],[71766.414,1487444],[71766.344,1487462],
[71765.145,1487953],[71765.189,1487926],[71765.255,1487922],[71765.277,1487909],[71765.299,1487929],[71765.365,1487909],[71765.387,1487895],[71765.255,1488005],[71765.299,1487991],[71765.343,1487984],[71765.387,1487998],[71765.398,1487977],[71765.365,1487960],[71765.233,1487950],[71765.156,1487943],[71765.266,1487902],[71765.325,1487889],
[71765.573,1487711],[71765.589,1487737],[71765.621,1487684],[71765.675,1487667],[71765.745,1487654],[71765.756,1487641],[71765.783,1487632],[71765.816,1487615],[71765.842,1487601],[71765.880,1487588],[71765.886,1487571],[71765.918,1487580],[71765.972,1487567],[71765.993,1487558],[71766.026,1487545],[71766.058,1487540],[71766.090,1487523]
];

// ---------- drawing ----------
const INK = '#262626';
const BLUE = '#0072BD', GREEN = '#00FF00', RED = '#FF0000', ORANGE = '#D95319';
Chart.defaults.font.family = "'DejaVu Sans', 'Noto Sans', sans-serif";
Chart.defaults.color = INK;

const pts = arr => arr.map(([x, y]) => ({x, y}));
const dots = (arr, color, r) => ({data: pts(arr), showLine: false, pointRadius: r, pointBackgroundColor: color, pointBorderWidth: 0, clip: 0});
const path = (arr, color, w, cap) => ({data: pts(arr), showLine: true, borderColor: color, borderWidth: w, pointRadius: 0,
  borderJoinStyle: 'round', borderCapStyle: cap || 'round', tension: 0, fill: false, clip: 0});

// axes box with inward ticks on all four sides, MATLAB style
const boxTicks = {
  id: 'boxTicks',
  afterDatasetsDraw(chart) {
    const {ctx, chartArea: a, scales: {x, y}} = chart;
    ctx.save();
    ctx.strokeStyle = INK;
    ctx.lineWidth = 2;
    ctx.beginPath();
    x.ticks.forEach(t => {
      const p = Math.round(x.getPixelForValue(t.value));
      ctx.moveTo(p, a.bottom); ctx.lineTo(p, a.bottom - 10);
      ctx.moveTo(p, a.top); ctx.lineTo(p, a.top + 10);
    });
    y.ticks.forEach(t => {
      const p = Math.round(y.getPixelForValue(t.value));
      ctx.moveTo(a.left, p); ctx.lineTo(a.left + 10, p);
      ctx.moveTo(a.right, p); ctx.lineTo(a.right - 10, p);
    });
    ctx.stroke();
    ctx.strokeRect(a.left, a.top, a.right - a.left, a.bottom - a.top);
    ctx.restore();
  }
};

function panel(id, o) {
  return new Chart(document.getElementById(id), {
    type: 'scatter',
    data: {datasets: o.datasets},
    options: {
      responsive: false, animation: false, events: [], devicePixelRatio: 1,
      layout: {padding: o.pad},
      plugins: {
        legend: {display: false},
        tooltip: {enabled: false},
        title: o.title
          ? {display: true, fullSize: false, text: o.title, color: '#000', font: {size: 32.5, weight: 'bold'}, padding: {top: 25, bottom: 1}}
          : {display: false}
      },
      scales: {
        x: {
          type: 'linear', min: o.xr[0], max: o.xr[1],
          grid: {display: false, drawTicks: false}, border: {display: false},
          afterBuildTicks: s => { s.ticks = o.xt.map(v => ({value: v})); },
          afterFit: s => { s.height = o.xh; s.paddingLeft = 0; s.paddingRight = 0; },
          ticks: {autoSkip: false, maxRotation: 0, padding: o.xtp, font: {size: 31}, callback: (v, i) => o.xl[i]},
          title: {display: true, text: 'Time (seconds past midnight)', font: {size: 32}, padding: {top: 0, bottom: o.xtb}}
        },
        y: {
          type: 'linear', min: o.yr[0], max: o.yr[1],
          grid: {display: false, drawTicks: false}, border: {display: false},
          afterBuildTicks: s => { s.ticks = o.yt.map(v => ({value: v})); },
          afterFit: s => { s.width = o.yw; s.paddingTop = 0; s.paddingBottom = 0; },
          ticks: {autoSkip: false, padding: 17, font: {size: 31}, callback: (v, i) => o.yl[i]},
          title: {display: true, text: 'Range (metres)', font: {size: 32}, padding: {top: o.ytt, bottom: 0}}
        }
      }
    },
    plugins: [boxTicks]
  });
}

panel('chA', {
  title: 'Particle filter - 540',
  pad: {left: 20, right: 52, top: 0, bottom: 0},
  xr: [5910, 5970], yr: [740000, 820000],
  xt: aXTicks, xl: aXLabels, yt: aYTicks, yl: aYLabels,
  xh: 118, yw: 135, xtp: 16.4, xtb: 21.8, ytt: 17.8,
  datasets: [path(aGreen, GREEN, 11), path(aTruth, ORANGE, 8), dots(aSpread, BLUE, 3.6), path(aBlue, BLUE, 21, 'butt')]
});

panel('chB', {
  pad: {left: 16, right: 51, top: 69, bottom: 0},
  xr: [5925.0, 5926.272], yr: [744135, 745423],
  xt: bXTicks, xl: bXLabels, yt: bYTicks, yl: bYLabels,
  xh: 229, yw: 175, xtp: 16.4, xtb: 134.8, ytt: 18.8,
  datasets: [dots(bParticles, BLUE, 3.7), path(bGreenHi, GREEN, 9), path(bGreenLo, GREEN, 9), path(bRed, RED, 9), path(bTruth, ORANGE, 7)]
});

panel('chC', {
  title: 'Particle filter - 737',
  pad: {left: 0, right: 61, top: 0, bottom: 0},
  xr: [71714.0, 71841.8], yr: [1481311, 1554041],
  xt: cXTicks, xl: cXLabels, yt: cYTicks, yl: cYLabels,
  xh: 125, yw: 149, xtp: 13.4, xtb: 32.8, ytt: 12.8,
  datasets: [
    path(cGreen, GREEN, 12), path(cRed, RED, 3),
    {...path(cBlueFloor, BLUE, 0), fill: 'shape', backgroundColor: BLUE},
    path(cBlueLeft, BLUE, 10, 'butt'), path(cBlueRight, BLUE, 10, 'butt'), dots(cSpread, BLUE, 3.6)
  ]
});

panel('chD', {
  pad: {left: 0, right: 47, top: 67, bottom: 0},
  xr: [71764.449, 71767.094], yr: [1487429.7, 1488135.8],
  xt: dXTicks, xl: dXLabels, yt: dYTicks, yl: dYLabels,
  xh: 238, yw: 189, xtp: 16.4, xtb: 144.8, ytt: 12.8,
  datasets: [
    dots(dParticles, BLUE, 3.7), path(dRed, RED, 8),
    path(dGreenHi, GREEN, 26), path(dGreenLo, GREEN, 26),
    path(dTruth, ORANGE, 7), path(dBlueTrack, BLUE, 7)
  ]
});
</script>
</body>
</html>
